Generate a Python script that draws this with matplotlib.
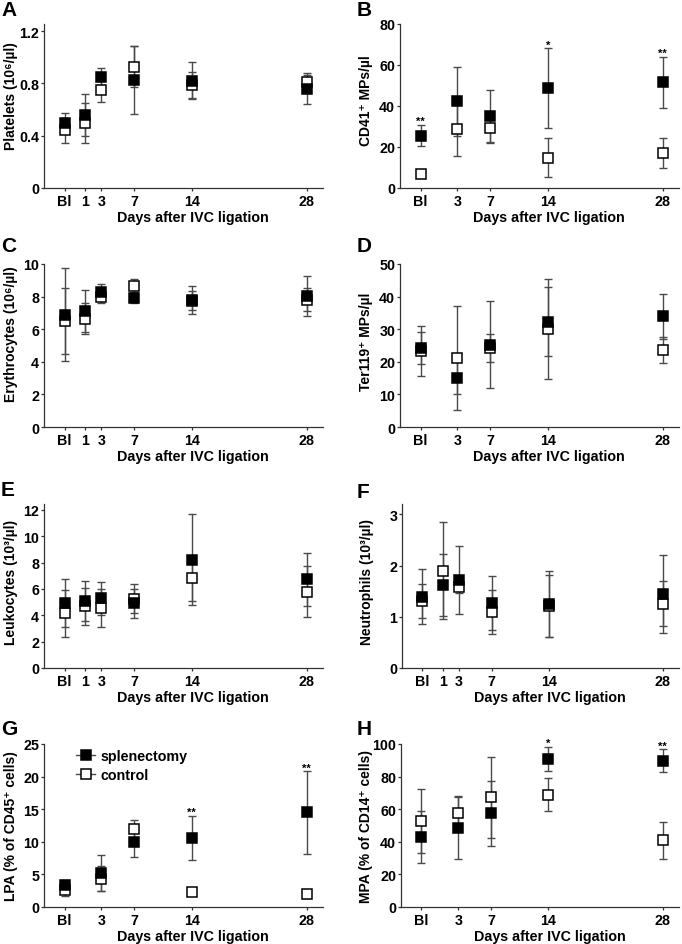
import matplotlib
matplotlib.use("Agg")
import matplotlib.pyplot as plt
from matplotlib.lines import Line2D

plt.rcParams['font.family'] = ['Liberation Sans', 'DejaVu Sans']
plt.rcParams['font.weight'] = 'bold'

# ---------------- data ----------------
days_full = ["Bl", 1, 3, 7, 14, 28]
days_short = ["Bl", 3, 7, 14, 28]

platelets_spl = [0.495, 0.56, 0.85, 0.825, 0.82, 0.76]
platelets_spl_sd = [0.076, 0.16, 0.066, 0.258, 0.14, 0.12]
platelets_ctl = [0.44, 0.497, 0.75, 0.926, 0.786, 0.807]
platelets_ctl_sd = [0.095, 0.15, 0.09, 0.157, 0.10, 0.06]

cd41_spl = [25.6, 42.2, 35.0, 48.8, 51.6]
cd41_spl_sd = [5.2, 17.0, 13.0, 19.3, 12.5]
cd41_ctl = [7.0, 28.9, 29.2, 14.8, 17.0]
cd41_ctl_sd = [1.0, 13.5, 7.0, 9.5, 7.2]
cd41_stars = ["**", "", "", "*", "**"]

ery_spl = [6.9, 7.1, 8.27, 7.92, 7.8, 8.06]
ery_spl_sd = [2.85, 1.3, 0.5, 0.3, 0.88, 1.22]
ery_ctl = [6.5, 6.63, 7.96, 8.67, 7.76, 7.8]
ery_ctl_sd = [2.0, 0.95, 0.35, 0.4, 0.6, 0.7]

ter_spl = [24.2, 15.1, 25.3, 32.3, 33.9]
ter_spl_sd = [4.8, 5.0, 13.3, 10.6, 6.9]
ter_ctl = [23.3, 21.1, 24.3, 30.0, 23.5]
ter_ctl_sd = [7.8, 16.0, 4.3, 15.4, 4.0]

leu_spl = [4.95, 5.1, 5.3, 4.9, 8.23, 6.72]
leu_spl_sd = [1.82, 1.5, 1.25, 1.13, 3.45, 2.0]
leu_ctl = [4.15, 4.7, 4.57, 5.25, 6.8, 5.79]
leu_ctl_sd = [1.77, 1.4, 1.43, 1.1, 1.7, 1.94]

neu_spl = [1.395, 1.62, 1.715, 1.265, 1.25, 1.45]
neu_spl_sd = [0.535, 0.6, 0.67, 0.525, 0.65, 0.76]
neu_ctl = [1.31, 1.9, 1.59, 1.1, 1.21, 1.25]
neu_ctl_sd = [0.33, 0.95, 0.13, 0.43, 0.6, 0.44]

lpa_spl = [3.31, 5.2, 9.95, 10.6, 14.5]
lpa_spl_sd = [0.8, 2.7, 2.3, 3.4, 6.3]
lpa_ctl = [2.55, 4.34, 11.9, 2.3, 2.04]
lpa_ctl_sd = [0.8, 1.9, 1.5, 0.5, 0.6]
lpa_stars = ["", "", "", "**", "**"]

mpa_spl = [42.95, 48.6, 57.4, 90.7, 89.8]
mpa_spl_sd = [16.15, 19.3, 20.1, 7.5, 7.0]
mpa_ctl = [52.7, 57.7, 67.4, 68.9, 40.9]
mpa_ctl_sd = [19.85, 10.0, 24.9, 10.0, 11.3]
mpa_stars = ["", "", "", "*", "**"]

# ---------------- layout ----------------
W, H = 682, 945
BL_POS = -1.5
XLIM = (-4, 30)
ERR_COLOR = '#4a4a4a'


def xpos(days):
    return [BL_POS if d == "Bl" else d for d in days]


fig = plt.figure(figsize=(W / 100, H / 100), dpi=100)


def make_ax(left_px, bottom_px, top_px, width_px=279):
    return fig.add_axes([left_px / W, (H - bottom_px) / H, width_px / W, (bottom_px - top_px) / H])


def panel(ax, days, spl, spl_sd, ctl, ctl_sd, ylim, yticks, yticklabels, ylabel,
          ylabel_px, ylabel_dy=0, stars=None):
    x = xpos(days)
    ax.errorbar(x, ctl, yerr=ctl_sd, fmt='none', ecolor=ERR_COLOR, elinewidth=1.0,
                capsize=3, capthick=1.0, zorder=1, clip_on=False)
    ax.errorbar(x, spl, yerr=spl_sd, fmt='none', ecolor=ERR_COLOR, elinewidth=1.0,
                capsize=3, capthick=1.0, zorder=1, clip_on=False)
    ax.plot(x, ctl, linestyle='none', marker='s', ms=7.4, mfc='white', mec='black',
            mew=1.1, zorder=2, clip_on=False)
    ax.plot(x, spl, linestyle='none', marker='s', ms=7.4, mfc='black', mec='black',
            mew=1.1, zorder=3, clip_on=False)
    if stars:
        for xi, m, s, st in zip(x, spl, spl_sd, stars):
            if st:
                ax.annotate(st, (xi, m + s), xytext=(0, -1), textcoords='offset points',
                            ha='center', va='bottom', fontsize=8, annotation_clip=False)
    ax.set_xlim(*XLIM)
    ax.set_ylim(*ylim)
    ax.set_xticks(x)
    ax.set_xticklabels([str(d) for d in days])
    ax.set_yticks(yticks)
    ax.set_yticklabels(yticklabels)
    ax.spines['top'].set_visible(False)
    ax.spines['right'].set_visible(False)
    for sp in ('left', 'bottom'):
        ax.spines[sp].set_linewidth(0.9)
        ax.spines[sp].set_color('#333333')
    ax.tick_params(direction='out', length=2.5, width=0.9, color='#333333',
                   labelsize=10.3, pad=1)
    ax.tick_params(axis='x', pad=1.5)
    ax.set_xlabel('Days after IVC ligation', fontsize=10.3, fontweight='bold')
    bbox = ax.get_position()
    h_px = bbox.height * H
    w_px = bbox.width * W
    ax.xaxis.set_label_coords(0.535, -22.0 / h_px)
    ax.set_ylabel(ylabel, fontsize=10, fontweight='bold')
    ax.yaxis.set_label_coords(-ylabel_px / w_px, 0.5 + ylabel_dy / h_px)


def letter(x_px, y_px, s):
    fig.text(x_px / W, 1 - y_px / H, s, ha='left', va='top', fontsize=15, fontweight='bold')


LX, RX = 44, 400

axA = make_ax(LX, 189, 25)
panel(axA, days_full, platelets_spl, platelets_spl_sd, platelets_ctl, platelets_ctl_sd,
      (0, 1.254), [0, 0.4, 0.8, 1.2], ["0", "0.4", "0.8", "1.2"],
      'Platelets (10⁶/µl)', 26, 11)
axB = make_ax(RX, 189, 25)
panel(axB, days_short, cd41_spl, cd41_spl_sd, cd41_ctl, cd41_ctl_sd,
      (0, 80), [0, 20, 40, 60, 80], ["0", "20", "40", "60", "80"],
      'CD41⁺ MPs/µl', 27, 6, stars=cd41_stars)

axC = make_ax(LX, 428, 265)
panel(axC, days_full, ery_spl, ery_spl_sd, ery_ctl, ery_ctl_sd,
      (0, 10), [0, 2, 4, 6, 8, 10], ["0", "2", "4", "6", "8", "10"],
      'Erythrocytes (10⁶/µl)', 26, 12)
axD = make_ax(RX, 428, 265)
panel(axD, days_short, ter_spl, ter_spl_sd, ter_ctl, ter_ctl_sd,
      (0, 50), [0, 10, 20, 30, 40, 50], ["0", "10", "20", "30", "40", "50"],
      'Ter119⁺ MPs/µl', 27, 5)

axE = make_ax(LX, 669, 505)
panel(axE, days_full, leu_spl, leu_spl_sd, leu_ctl, leu_ctl_sd,
      (0, 12.45), [0, 2, 4, 6, 8, 10, 12], ["0", "2", "4", "6", "8", "10", "12"],
      'Leukocytes (10³/µl)', 26, 5)
axF = make_ax(RX + 2, 669, 505, 277)
panel(axF, days_full, neu_spl, neu_spl_sd, neu_ctl, neu_ctl_sd,
      (0, 3.2), [0, 1, 2, 3], ["0", "1", "2", "3"],
      'Neutrophils (10³/µl)', 28, 5)

axG = make_ax(LX, 908, 745)
panel(axG, days_short, lpa_spl, lpa_spl_sd, lpa_ctl, lpa_ctl_sd,
      (0, 25), [0, 5, 10, 15, 20, 25], ["0", "5", "10", "15", "20", "25"],
      'LPA (% of CD45⁺ cells)', 26, 0, stars=lpa_stars)
axH = make_ax(RX + 1, 908, 745, 278)
panel(axH, days_short, mpa_spl, mpa_spl_sd, mpa_ctl, mpa_ctl_sd,
      (0, 100), [0, 20, 40, 60, 80, 100], ["0", "20", "40", "60", "80", "100"],
      'MPA (% of CD14⁺ cells)', 28, 0, stars=mpa_stars)

handles = [
    Line2D([], [], color=ERR_COLOR, lw=1.0, marker='s', ms=7.4, mfc='black', mec='black', mew=1.1),
    Line2D([], [], color=ERR_COLOR, lw=1.0, marker='s', ms=7.4, mfc='white', mec='black', mew=1.1),
]
axG.legend(handles, ['splenectomy', 'control'], loc='upper left', bbox_to_anchor=(0.095, 1.005),
           frameon=False, fontsize=10.3, handlelength=1.3, handletextpad=0.4,
           labelspacing=0.35, borderaxespad=0)

letter(1, 1, 'A')
letter(357, 1, 'B')
letter(1, 237, 'C')
letter(357, 237, 'D')
letter(1, 481, 'E')
letter(357, 483, 'F')
letter(1, 720, 'G')
letter(357, 720, 'H')

fig.savefig('out.png', dpi=100)
